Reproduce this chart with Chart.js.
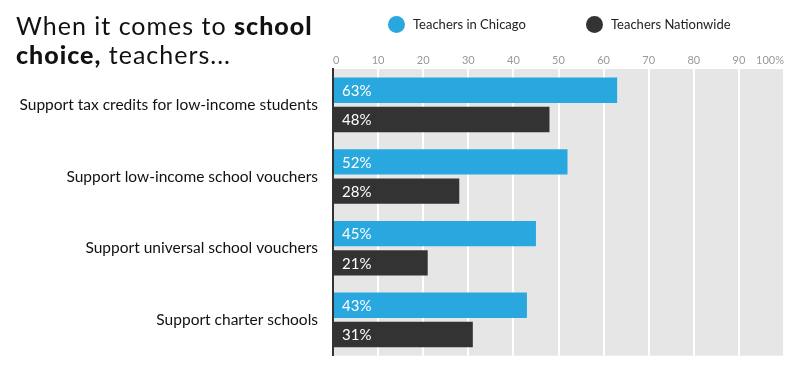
<!DOCTYPE html>
<html>
<head>
<meta charset="utf-8">
<script src="https://cdn.jsdelivr.net/npm/chart.js@4"></script>
<style>
  body { margin: 0; background: #fff; }
  #wrap { position: relative; width: 800px; height: 380px; }
  #title {
    position: absolute; left: 16px; top: 11px;
    font-family: Lato, sans-serif; font-size: 25px; line-height: 29px;
    letter-spacing: 1px; color: #111;
  }
  #title b { font-weight: 900; }
  #legend {
    position: absolute; top: 14px; left: 388px;
    font-family: Lato, sans-serif; font-size: 13px; color: #222;
  }
  .item { position: absolute; white-space: nowrap; line-height: 20px; }
  .dot { display: inline-block; width: 17px; height: 17px; border-radius: 50%; vertical-align: -4px; margin-right: 8px; }
</style>
</head>
<body>
<div id="wrap">
  <canvas id="estateChart" width="800" height="380"></canvas>
  <div id="title">When it comes to <b>school<br>choice,</b> teachers...</div>
  <div id="legend"></div>
</div>
<script>
// data
const categories = [
  "Support tax credits for low-income students",
  "Support low-income school vouchers",
  "Support universal school vouchers",
  "Support charter schools"
];
const seriesNames = ["Teachers in Chicago", "Teachers Nationwide"];
const chicagoValues = [63, 52, 45, 43];
const nationwideValues = [48, 28, 21, 31];
const seriesColors = ["#29a8e0", "#333333"];

// legend in html
const legend = document.getElementById('legend');
const legendOffsets = [0, 198];
seriesNames.forEach((name, i) => {
    const el = document.createElement('div');
    el.className = 'item';
    el.style.left = legendOffsets[i] + 'px';
    el.innerHTML = '<span class="dot" style="background:' + seriesColors[i] + '"></span>' + name;
    legend.appendChild(el);
});

// gray plot background
const plotBackground = {
    id: 'plotBackground',
    beforeDraw(chart) {
        const { ctx, chartArea } = chart;
        ctx.save();
        ctx.fillStyle = '#e6e6e6';
        ctx.fillRect(chartArea.left, chartArea.top, chartArea.right - chartArea.left, chartArea.bottom - chartArea.top);
        ctx.restore();
    }
};

// white % labels inside bars
const barLabels = {
    id: 'barLabels',
    afterDatasetsDraw(chart) {
        const ctx = chart.ctx;
        ctx.save();
        ctx.fillStyle = '#ffffff';
        ctx.font = '15px Lato, sans-serif';
        ctx.textBaseline = 'middle';
        chart.data.datasets.forEach((ds, i) => {
            chart.getDatasetMeta(i).data.forEach((bar, j) => {
                ctx.fillText(ds.data[j] + '%', bar.base + 8, bar.y + 1);
            });
        });
        ctx.restore();
    }
};

const ctx = document.getElementById('estateChart').getContext('2d');
new Chart(ctx, {
    type: 'bar',
    data: {
        labels: categories,
        datasets: [
            { label: seriesNames[0], data: chicagoValues, backgroundColor: seriesColors[0] },
            { label: seriesNames[1], data: nationwideValues, backgroundColor: seriesColors[1] }
        ]
    },
    options: {
        indexAxis: 'y',
        responsive: false,
        animation: false,
        categoryPercentage: 0.816,
        barPercentage: 0.867,
        layout: { padding: { top: 40, right: 16, bottom: 17, left: 0 } },
        plugins: {
            legend: { display: false },
            tooltip: { enabled: false }
        },
        scales: {
            x: {
                position: 'top',
                min: 0,
                max: 100,
                afterFit(scale) { scale.height = 29; },
                border: { display: false },
                grid: { color: '#ffffff', lineWidth: 2, drawTicks: false },
                ticks: {
                    stepSize: 10,
                    padding: 2,
                    align: 'inner',
                    color: '#999999',
                    font: { family: 'Lato, sans-serif', size: 11 },
                    callback: v => v === 100 ? '100%' : v
                }
            },
            y: {
                afterFit(scale) { scale.width = 333; },
                border: { color: '#333333', width: 2 },
                grid: { display: false, drawTicks: false },
                ticks: {
                    padding: 15,
                    color: '#111111',
                    font: { family: 'Lato, sans-serif', size: 15.5 }
                }
            }
        }
    },
    plugins: [plotBackground, barLabels]
});
</script>
</body>
</html>
